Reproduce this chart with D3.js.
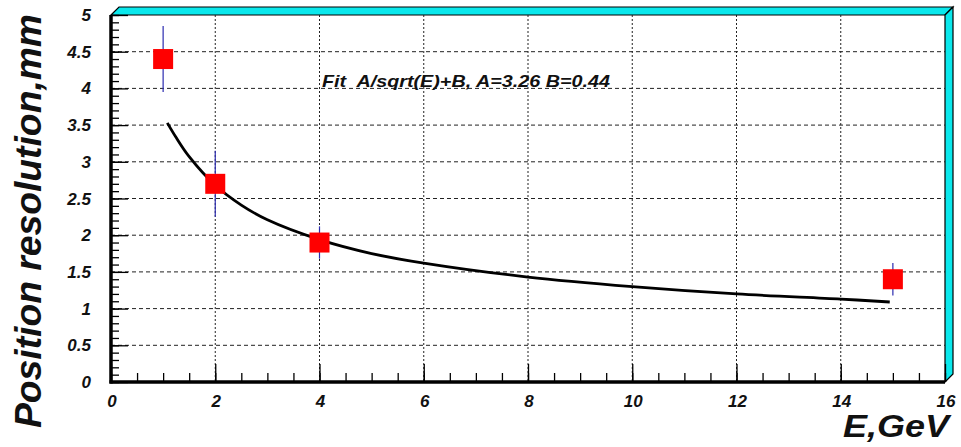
<!DOCTYPE html>
<html lang="en">
<head>
<meta charset="utf-8">
<title>Position resolution vs E</title>
<script src="https://cdn.jsdelivr.net/npm/d3@7"></script>
<style>
  body { margin: 0; background: #fff; }
  svg text { font-family: "Liberation Sans", Arial, sans-serif; font-style: italic; font-weight: bold; fill: #111; }
</style>
</head>
<body>
<script>
// data
const energies = [1, 2, 4, 15];
const resolution = [4.4, 2.7, 1.9, 1.4];
const errors = [0.45, 0.45, 0.22, 0.22];

// fit curve as drawn
const fitE = [1.08, 1.25, 1.5, 2, 2.5, 3, 4, 5, 6, 8, 10, 12, 14, 14.94];
const fitR = [3.53, 3.33, 3.07, 2.68, 2.41, 2.21, 1.94, 1.75, 1.62, 1.43, 1.30, 1.20, 1.13, 1.09];

const xTicks = [0, 2, 4, 6, 8, 10, 12, 14, 16];
const yTicks = [0, 0.5, 1, 1.5, 2, 2.5, 3, 3.5, 4, 4.5, 5];
const fitLabel = "Fit  A/sqrt(E)+B, A=3.26 B=0.44";

const width = 961, height = 447;
const pLeft = 111, pRight = 945, pTop = 15, pBottom = 382;
const depth = 8;

const x = d3.scaleLinear().domain([0, 16]).range([pLeft, pRight]);
const y = d3.scaleLinear().domain([0, 5]).range([pBottom, pTop]);

const svg = d3.select("body").append("svg")
    .attr("width", width)
    .attr("height", height);

// 3d frame bands
const band = "#0ae8ec";
svg.append("polygon")
    .attr("points", [[pLeft, pTop], [pLeft + depth, pTop - depth], [pRight + depth, pTop - depth], [pRight, pTop]].join(" "))
    .attr("fill", band).attr("stroke", "#000").attr("stroke-width", 1.2);
svg.append("polygon")
    .attr("points", [[pRight, pTop], [pRight + depth, pTop - depth], [pRight + depth, pBottom - depth], [pRight, pBottom]].join(" "))
    .attr("fill", band).attr("stroke", "#000").attr("stroke-width", 1.2);

// grid
svg.append("g").selectAll("line")
    .data(yTicks.filter(d => d > 0 && d < 5))
    .join("line")
    .attr("x1", pLeft).attr("x2", pRight)
    .attr("y1", d => y(d)).attr("y2", d => y(d))
    .attr("stroke", "#222").attr("stroke-width", 1)
    .attr("stroke-dasharray", "4,3");

svg.append("g").selectAll("line")
    .data(xTicks.filter(d => d > 0 && d < 16))
    .join("line")
    .attr("x1", d => x(d)).attr("x2", d => x(d))
    .attr("y1", pTop).attr("y2", pBottom)
    .attr("stroke", "#222").attr("stroke-width", 1)
    .attr("stroke-dasharray", "2,2");

// axes with inside ticks
const yMinor = d3.range(0, 5.001, 0.1);
const xMinor = d3.range(0, 16.001, 0.5);

svg.append("g")
    .attr("transform", "translate(" + pLeft + ",0)")
    .call(d3.axisLeft(y).tickValues(yMinor).tickSize(-8).tickFormat(""))
    .call(g => g.select(".domain").remove());
svg.append("g")
    .attr("transform", "translate(" + pLeft + ",0)")
    .call(d3.axisLeft(y).tickValues(yTicks).tickSize(-17).tickFormat(""))
    .call(g => g.select(".domain").remove());
svg.append("g")
    .attr("transform", "translate(0," + pBottom + ")")
    .call(d3.axisBottom(x).tickValues(xMinor).tickSize(-9).tickFormat(""))
    .call(g => g.select(".domain").remove());
svg.append("g")
    .attr("transform", "translate(0," + pBottom + ")")
    .call(d3.axisBottom(x).tickValues(xTicks).tickSize(-18).tickFormat(""))
    .call(g => g.select(".domain").remove());

svg.selectAll(".tick line").attr("stroke", "#000").attr("stroke-width", 1.3);

// thick axis lines
svg.append("line")
    .attr("x1", pLeft).attr("x2", pLeft).attr("y1", pTop).attr("y2", pBottom + 1.5)
    .attr("stroke", "#000").attr("stroke-width", 3.5);
svg.append("line")
    .attr("x1", pLeft - 1.5).attr("x2", pRight).attr("y1", pBottom).attr("y2", pBottom)
    .attr("stroke", "#000").attr("stroke-width", 3.5);

// tick labels
svg.append("g").selectAll("text")
    .data(yTicks)
    .join("text")
    .attr("x", pLeft - 20)
    .attr("y", d => y(d) + 6)
    .attr("text-anchor", "end")
    .attr("font-size", "17px")
    .text(d => String(d));

svg.append("g").selectAll("text")
    .data(xTicks)
    .join("text")
    .attr("x", d => x(d) + 1)
    .attr("y", 407)
    .attr("text-anchor", "middle")
    .attr("font-size", "17px")
    .text(d => String(d));

// titles
svg.append("text")
    .attr("transform", "translate(41,221) rotate(-90)")
    .attr("text-anchor", "middle")
    .attr("font-size", "36px")
    .attr("textLength", 414)
    .attr("lengthAdjust", "spacingAndGlyphs")
    .text("Position resolution,mm");

svg.append("text")
    .attr("x", 949)
    .attr("y", 437)
    .attr("text-anchor", "end")
    .attr("font-size", "31px")
    .attr("textLength", 106)
    .attr("lengthAdjust", "spacingAndGlyphs")
    .text("E,GeV");

svg.append("text")
    .attr("x", 322)
    .attr("y", 87)
    .attr("font-size", "17px")
    .style("white-space", "pre")
    .attr("textLength", 288)
    .attr("lengthAdjust", "spacingAndGlyphs")
    .text(fitLabel);

// fit curve
const line = d3.line()
    .x((d, i) => x(fitE[i]))
    .y(d => y(d))
    .curve(d3.curveCatmullRom);
svg.append("path")
    .datum(fitR)
    .attr("d", line)
    .attr("fill", "none")
    .attr("stroke", "#000")
    .attr("stroke-width", 2.8);

// error bars
svg.append("g").selectAll("line")
    .data(resolution)
    .join("line")
    .attr("x1", (d, i) => x(energies[i])).attr("x2", (d, i) => x(energies[i]))
    .attr("y1", (d, i) => y(d + errors[i])).attr("y2", (d, i) => y(d - errors[i]))
    .attr("stroke", "#2c2cb0").attr("stroke-width", 1.2);

// points
const sq = 20;
svg.append("g").selectAll("rect")
    .data(resolution)
    .join("rect")
    .attr("x", (d, i) => x(energies[i]) - sq / 2)
    .attr("y", d => y(d) - sq / 2)
    .attr("width", sq)
    .attr("height", sq)
    .attr("fill", "#ff0000");
</script>
</body>
</html>
